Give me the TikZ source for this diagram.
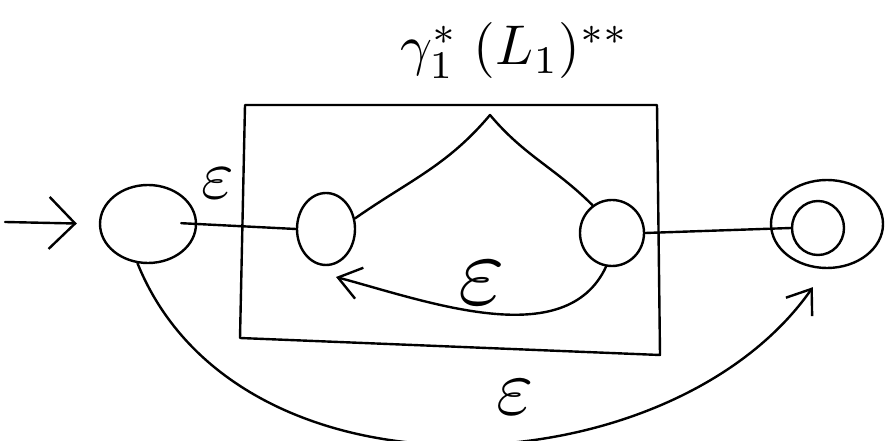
\documentclass[tikz,border=0pt]{standalone}
\usetikzlibrary{shapes.geometric,arrows.meta}
\begin{document}
\begin{tikzpicture}[x=1pt,y=1pt, line width=2.4pt, line cap=round, line join=round,
  st/.style={draw, ellipse, inner sep=0pt},
  bigtip/.style={-{Straight Barb[length=26pt,width=52pt,line width=2.4pt]}},
  tip/.style={-{Straight Barb[length=22pt,width=32pt,line width=2.4pt]}},
  lbl/.style={inner sep=0pt}]
\useasboundingbox (0,0) rectangle (885,441);
% states
\node[st, minimum width=96pt, minimum height=78pt] (q0) at (148,217) {};
\node[st, minimum width=58pt, minimum height=72pt] (qa) at (326,212) {};
\node[st, minimum width=64pt, minimum height=66pt] (qb) at (612,208) {};
\node[st, minimum width=112pt, minimum height=88pt] (qf) at (827,217) {};
\node[st, minimum width=52pt, minimum height=54pt] (qfi) at (818,213) {};
% box
\draw (245,336) -- (657,336) -- (660,86) -- (240,103) -- cycle;
% start arrow
\coordinate (s) at (5,219);
\draw[bigtip] (s) -- (q0.west) [shorten >=22pt];
% epsilon into the box
\draw[shorten <=-16pt] (q0.east) -- (qa.west);
\node[lbl, scale=7] (e1) at (218,258) {$\varepsilon$};
% the cone
\coordinate (peak) at (490,326);
\draw (qa.20) to[out=35,in=-130] (peak) to[out=-50,in=135] (qb.125);
% loop back inside
\coordinate (la) at (336,164);
\draw[tip] (qb.-100) to[out=-115,in=-15,looseness=0.9] (la);
\node[lbl, scale=10] (e2) at (482,158) {$\varepsilon$};
% out of the box
\draw (qb.east) -- (qfi.west);
% bottom bypass
\draw[tip, shorten >=22pt] (q0.-105) to[out=-68,in=-125,looseness=1.0] (qf.-92);
\node[lbl, scale=8] (e3) at (515,44) {$\varepsilon$};
% top label
\node[lbl, scale=5.6] (t) at (515,390) {$\gamma_1^{*}\;(L_1)^{**}$};
\end{tikzpicture}
\end{document}
